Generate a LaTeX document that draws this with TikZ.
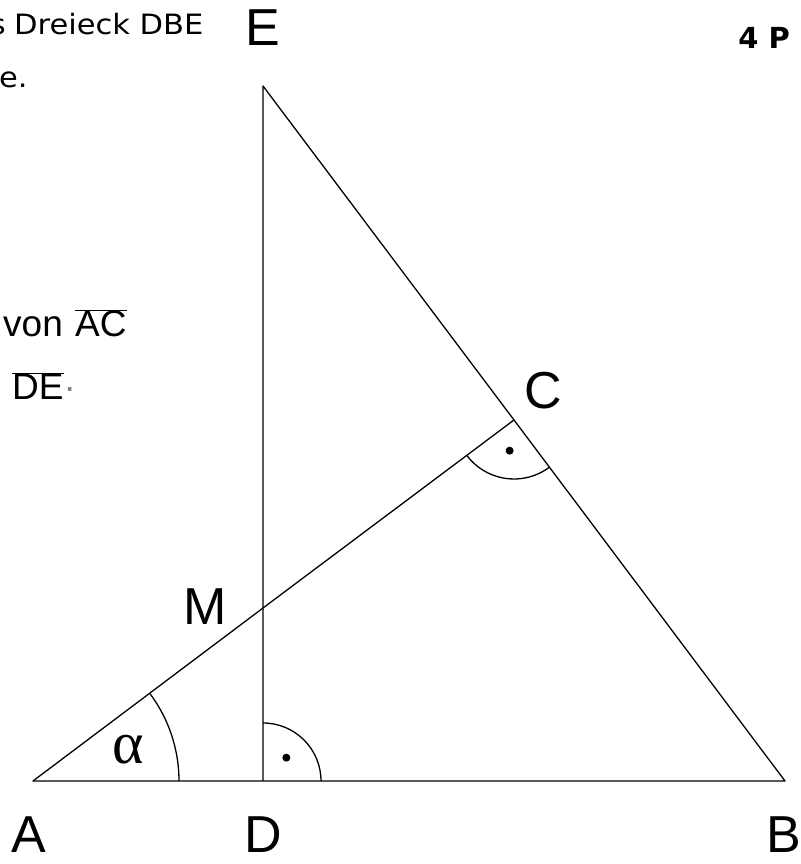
\documentclass[tikz,border=0pt]{standalone}
\usepackage{fontspec}
\setmainfont{Liberation Sans}
\newfontfamily\dv{DejaVu Sans}
\newfontfamily\lserif{Liberation Serif}
\usetikzlibrary{angles,calc}
\begin{document}
\begin{tikzpicture}[x=1pt,y=1pt,
  seg/.style={line width=1.3pt, line cap=round, line join=round},
  vlab/.style={inner sep=0pt, font=\fontsize{52}{52}\selectfont},
  txt/.style={inner sep=0pt, anchor=base west},
  smalltxt/.style={inner sep=0pt, font=\dv\fontsize{28}{28}\selectfont},
  anglearc/.style={draw, line width=1.3pt},
  dotm/.style={fill=black, circle, inner sep=0pt, minimum size=8pt}]
\useasboundingbox (0,0) rectangle (800,864);
\clip (0,0) rectangle (800,864);
% points
\coordinate (A) at (33,83);
\coordinate (D) at (263,83);
\coordinate (B) at (785,83);
\coordinate (E) at (263,778);
\coordinate (C) at (514,444);
\coordinate (M) at (263,256);
% sides
\draw[seg] (A) -- (B) -- (C) -- (E) -- (D);
\draw[seg] (A) -- (M) -- (C);
% angle marks
\pic[anglearc, angle radius=146pt] {angle=B--A--C};
\pic[anglearc, angle radius=58pt] {angle=B--D--E};
\pic[anglearc, angle radius=59pt] {angle=A--C--B};
\node[dotm] (dD) at ($(D)+(45:33)$) {};
\node[dotm] (dC) at ($(C)+(261.9:31)$) {};
% alpha
\node[inner sep=0pt, font=\lserif\fontsize{60}{60}\selectfont] (al) at (128,114) {α};
% vertex labels
\node[vlab] (lE) at (263,836) {E};
\node[vlab] (lA) at (29,29) {A};
\node[vlab] (lD) at (263,29) {D};
\node[vlab] (lB) at (784,29) {B};
\node[vlab] (lC) at (543,473) {C};
\node[vlab] (lM) at (205,257) {M};
% text fragments
\node[smalltxt, anchor=base east] (t0) at (6,829) {\scalebox{1.09}[1]{s}};
\node[smalltxt, anchor=base west] (t1) at (14,829) {\scalebox{1.09}[1]{Dreieck DBE}};
\node[smalltxt, anchor=base west] (t2) at (-1,776) {\scalebox{1.09}[1]{e.}};
\node[txt, font=\fontsize{37}{37}\selectfont] (t3) at (3,527) {von\ \hspace{2pt}$\overline{\hbox{AC}}$};
\node[txt, font=\fontsize{37}{37}\selectfont] (t4) at (12,464) {$\overline{\hbox{DE}}$\textcolor{gray}{\textperiodcentered}};
\node[inner sep=0pt, anchor=base east, font=\dv\bfseries\fontsize{29}{29}\selectfont] (t5) at (790,815) {4 P};
\end{tikzpicture}
\end{document}
